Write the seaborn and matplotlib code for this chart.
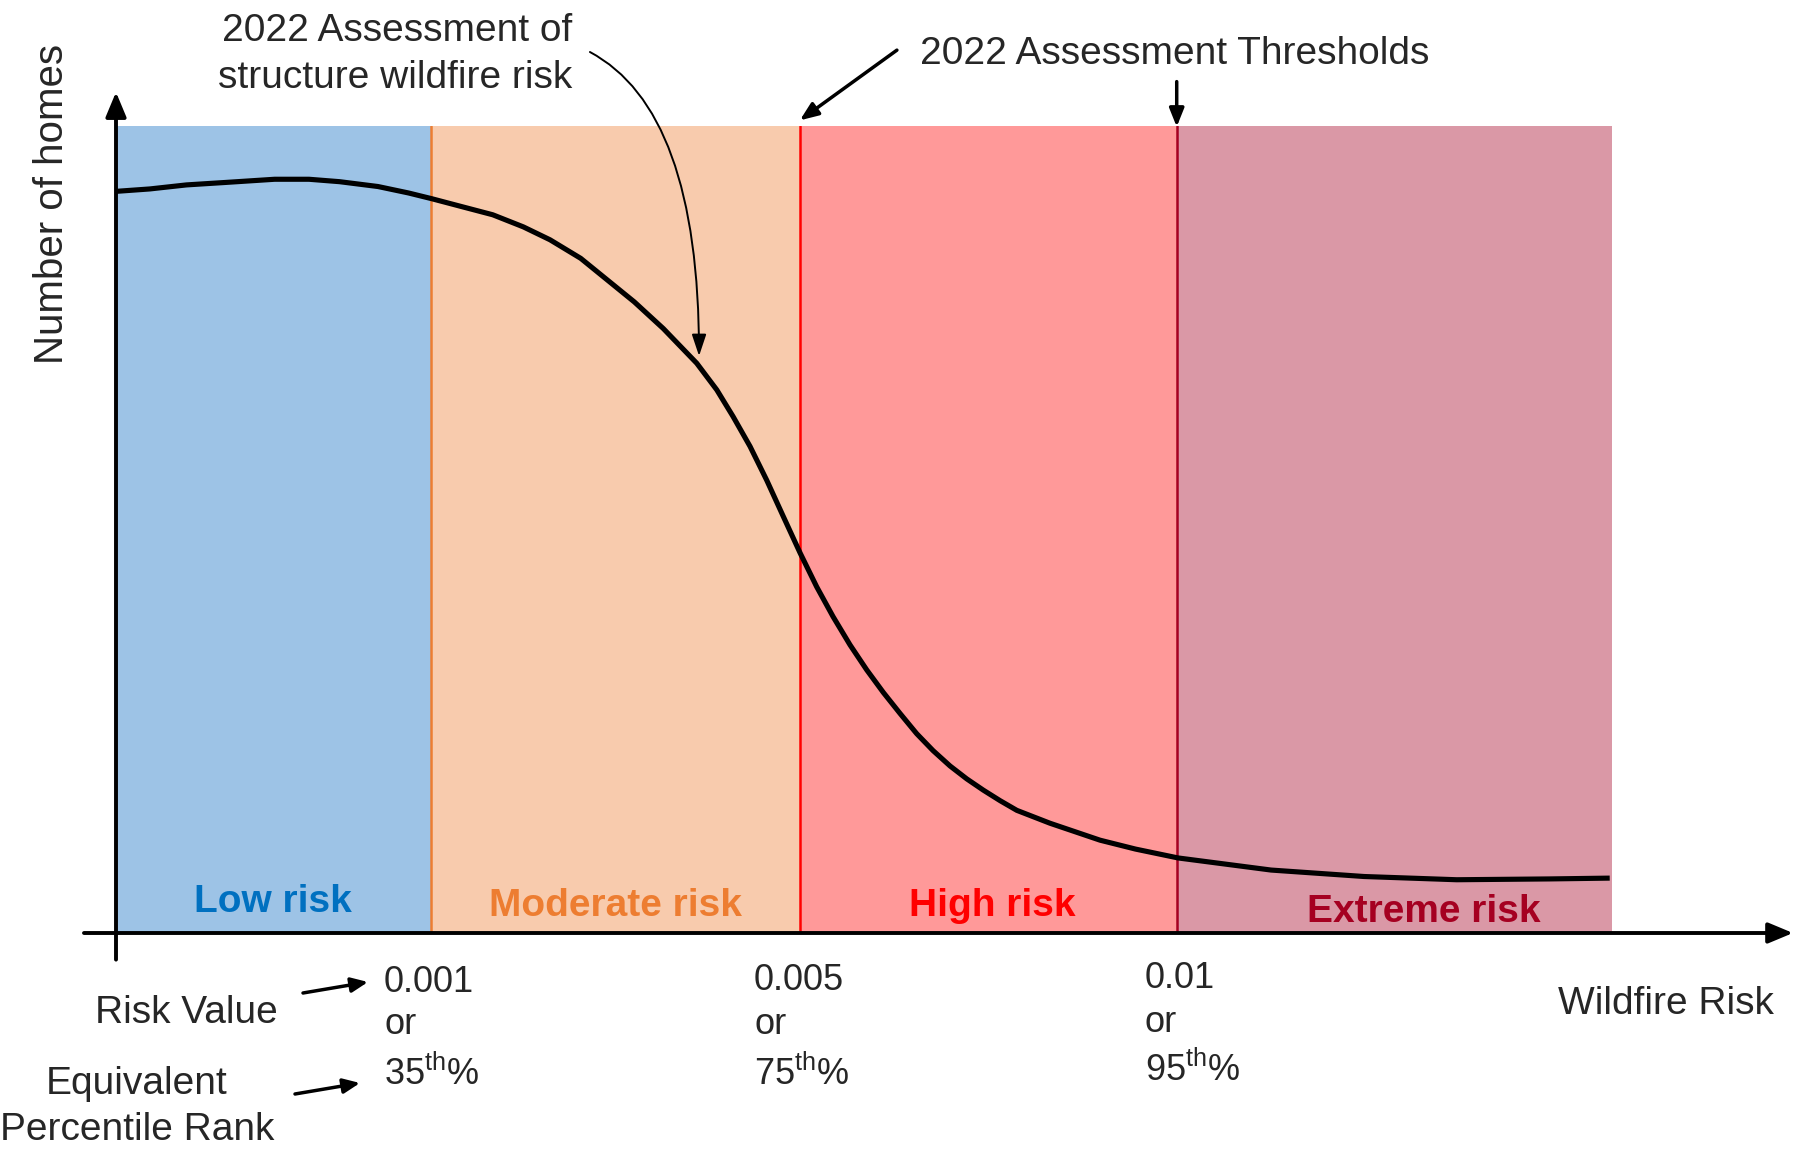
import numpy as np
import pandas as pd
import seaborn as sns
import matplotlib.pyplot as plt

# Risk bands (x in diagram units along the wildfire-risk axis)
band_edges = [0, 2.75, 5.97, 9.26, 13.06]
band_names = ['Low risk', 'Moderate risk', 'High risk', 'Extreme risk']
band_fill = ['#9DC3E6', '#F8CBAD', '#FF9999', '#DA98A6']
band_text = ['#0070C0', '#ED7D31', '#FF0000', '#A50021']
label_x = [1.37, 4.36, 7.65, 11.42]
label_y = [2.6, 2.1, 2.1, 1.4]

# Curve: number of homes vs risk
curve_x = [0, 0.295, 0.615, 0.95, 1.385, 1.685, 1.952, 2.287, 2.554, 2.754, 3.021,
           3.289, 3.556, 3.789, 4.057, 4.291, 4.525, 4.778, 5.07, 5.245, 5.387,
           5.535, 5.681, 5.826, 5.972, 6.117, 6.26, 6.408, 6.554, 6.699, 6.845,
           6.99, 7.133, 7.281, 7.427, 7.572, 7.718, 7.864, 8.154, 8.591, 8.9,
           9.272, 10.084, 10.896, 11.704, 12.511, 13.04]
curve_y = [91.9, 92.2, 92.7, 93.0, 93.4, 93.4, 93.1, 92.5, 91.7, 91.0, 90.0,
           89.0, 87.5, 85.9, 83.6, 80.9, 78.2, 74.9, 70.6, 67.3, 64.0,
           60.3, 56.1, 51.6, 47.1, 42.9, 39.2, 35.7, 32.6, 29.8, 27.2,
           24.7, 22.6, 20.7, 19.1, 17.7, 16.4, 15.2, 13.6, 11.5, 10.4,
           9.3, 7.8, 7.0, 6.6, 6.7, 6.8]

risk_values = ['0.001', '0.005', '0.01']
percentiles = ['35', '75', '95']

sns.set_theme(style='white')
plt.rcParams['font.family'] = ['Liberation Sans', 'DejaVu Sans']
plt.rcParams['mathtext.fontset'] = 'custom'
plt.rcParams['mathtext.rm'] = 'Liberation Sans'

W, H = 1796, 1151
fig = plt.figure(figsize=(W / 100, H / 100), dpi=100)
ax = fig.add_axes([116 / W, 1 - 933 / H, 1496 / W, 807 / H])


def fx(x):
    return x / W


def fy(y):
    return 1 - y / H


for i in range(4):
    ax.axvspan(band_edges[i], band_edges[i + 1], color=band_fill[i], lw=0, zorder=0)
    ax.text(label_x[i], label_y[i], band_names[i], color=band_text[i], fontsize=28,
            fontweight='bold', ha='center', va='baseline', zorder=3)
for i in range(1, 4):
    ax.axvline(band_edges[i], color=band_text[i], lw=1.8, zorder=1)

df = pd.DataFrame({'risk': curve_x, 'homes': curve_y})
sns.lineplot(data=df, x='risk', y='homes', color='black', lw=3.7, ax=ax, zorder=4,
             solid_joinstyle='round', solid_capstyle='butt')

ax.set_xlim(band_edges[0], band_edges[-1])
ax.set_ylim(0, 100)
ax.axis('off')

axis_arrow = dict(arrowstyle='-|>,head_length=0.6,head_width=0.25', color='black',
                  lw=2.8, mutation_scale=25, shrinkA=0, shrinkB=0)
ax.annotate('', xy=(0, 1.042), xytext=(0, -0.033), xycoords='axes fraction',
            arrowprops=axis_arrow, annotation_clip=False)
ax.annotate('', xy=(1.121, 0), xytext=(-0.0214, 0), xycoords='axes fraction',
            arrowprops=axis_arrow, annotation_clip=False)

# pointer arrows to the thresholds and the curve
small_arrow = dict(arrowstyle='-|>,head_length=0.5,head_width=0.2', color='black',
                   lw=2.5, mutation_scale=22, shrinkA=0, shrinkB=0)
ax.annotate('', xy=(band_edges[2], 100.7), xytext=(0.522, 1.094),
            xycoords='data', textcoords='axes fraction',
            arrowprops=small_arrow, annotation_clip=False)
ax.annotate('', xy=(band_edges[3], 99.9), xytext=(band_edges[3], 105.5),
            arrowprops=small_arrow, annotation_clip=False)
ax.annotate('', xy=(5.09, 71.5), xytext=(0.3168, 1.0917),
            xycoords='data', textcoords='axes fraction',
            arrowprops=dict(arrowstyle='-|>,head_length=0.6,head_width=0.2',
                            color='black', lw=1.4, mutation_scale=22,
                            shrinkA=0, shrinkB=0,
                            connectionstyle='angle3,angleA=-28,angleB=90'),
            annotation_clip=False)

fig.text(fx(572), fy(41), '2022 Assessment of', fontsize=28, ha='right', va='baseline')
fig.text(fx(572), fy(88), 'structure wildfire risk', fontsize=28, ha='right', va='baseline')
fig.text(fx(920), fy(64), '2022 Assessment Thresholds', fontsize=28,
         ha='left', va='baseline')
fig.text(fx(52), fy(204), 'Number of homes', fontsize=29, rotation=90,
         ha='center', va='center')
fig.text(fx(1558), fy(1014), 'Wildfire Risk', fontsize=28, ha='left', va='baseline')
fig.text(fx(186), fy(1023), 'Risk Value', fontsize=28, ha='center', va='baseline')
fig.text(fx(137), fy(1094), 'Equivalent', fontsize=28, ha='center', va='baseline')
fig.text(fx(137), fy(1140), 'Percentile Rank', fontsize=28, ha='center', va='baseline')

fig_arrow = dict(arrowstyle='-|>,head_length=0.5,head_width=0.22', color='black',
                 lw=2.5, mutation_scale=20, shrinkA=0, shrinkB=0)
ax.annotate('', xy=(fx(368), fy(982)), xytext=(fx(303), fy(993)),
            xycoords='figure fraction', arrowprops=fig_arrow, annotation_clip=False)
ax.annotate('', xy=(fx(360), fy(1083)), xytext=(fx(295), fy(1094)),
            xycoords='figure fraction', arrowprops=fig_arrow, annotation_clip=False)

tick_left = [384, 754, 1145]
tick_rows = [[992, 1034, 1085], [990, 1034, 1085], [988, 1032, 1081]]
for i in range(3):
    rows = tick_rows[i]
    fig.text(fx(tick_left[i]), fy(rows[0]), risk_values[i], fontsize=26,
             ha='left', va='baseline')
    fig.text(fx(tick_left[i]), fy(rows[1]), 'or', fontsize=26, ha='left', va='baseline')
    fig.text(fx(tick_left[i]), fy(rows[2]), percentiles[i] + r'$^{\mathrm{th}}$%',
             fontsize=26, ha='left', va='baseline')

fig.savefig('out.png', dpi=100)
